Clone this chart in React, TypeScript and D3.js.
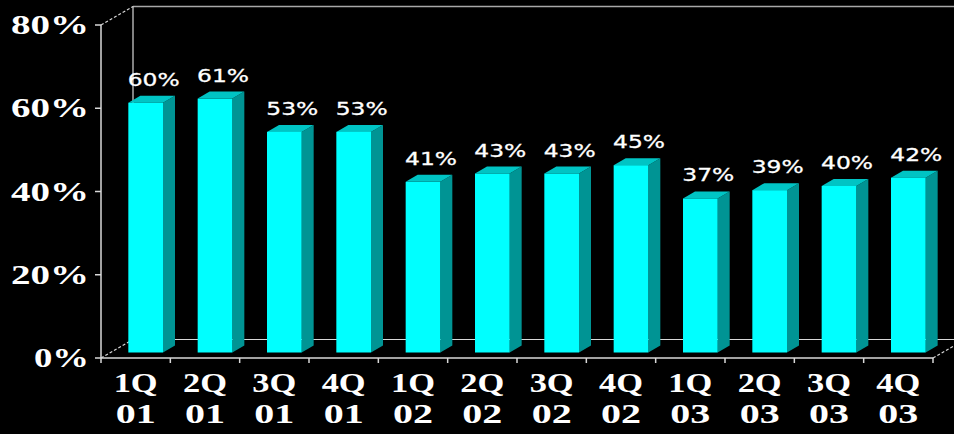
import React from "react";
import * as d3 from "d3";

const categories = ["1Q 01", "2Q 01", "3Q 01", "4Q 01", "1Q 02", "2Q 02", "3Q 02", "4Q 02", "1Q 03", "2Q 03", "3Q 03", "4Q 03"];
const values = [60, 61, 53, 53, 41, 43, 43, 45, 37, 39, 40, 42];
const yTicks = [0, 20, 40, 60, 80];

const W = 954;
const H = 434;
const X0 = 101;
const X1 = 933;
const YB = 358;
const YT = 25;
const DX = 32;
const DY = -18.5;
const OFX = 10;
const OFY = -5.5;
const BDX = 12;
const BDY = -7;

export default function App() {
  const y = d3.scaleLinear().domain([0, 80]).range([YB, YT]);
  const x = d3.scaleBand<string>().domain(categories).range([X0, X1]).paddingInner(0.5).paddingOuter(0.25);
  const step = x.step();
  const bw = x.bandwidth();
  const lineColor = "#d8d8d8";
  const boundaries = d3.range(categories.length + 1).map((i) => X0 + i * step);

  return (
    <svg width={W} height={H} style={{ position: "absolute", left: 0, top: 0, display: "block" }}>
      <rect x={0} y={0} width={W} height={H} fill="#000" />
      {/* back wall & floor */}
      <line x1={X0 + DX} y1={YT + DY} x2={X1 + DX} y2={YT + DY} stroke="#a8a8a8" strokeWidth={1.5} />
      <line x1={X0 + DX} y1={YT + DY} x2={X0 + DX} y2={YB + DY} stroke={lineColor} strokeWidth={1.2} />
      <line x1={X0 + DX} y1={YB + DY} x2={X1 + DX} y2={YB + DY} stroke={lineColor} strokeWidth={1.2} />
      <line x1={X0} y1={YT} x2={X0 + DX} y2={YT + DY} stroke={lineColor} strokeWidth={1.2} strokeDasharray="3,2" />
      <line x1={X0} y1={YB} x2={X0 + DX} y2={YB + DY} stroke={lineColor} strokeWidth={1.2} strokeDasharray="3,2" />
      <line x1={X1} y1={YB} x2={X1 + DX} y2={YB + DY} stroke={lineColor} strokeWidth={1.2} strokeDasharray="3,2" />

      {/* bars */}
      {categories.map((c, i) => {
        const bx = (x(c) as number) + OFX;
        const yt = y(values[i]) + OFY;
        const yb = y(0) + OFY;
        const top = [[bx, yt], [bx + bw, yt], [bx + bw + BDX, yt + BDY], [bx + BDX, yt + BDY]];
        const side = [[bx + bw, yt], [bx + bw + BDX, yt + BDY], [bx + bw + BDX, yb + BDY], [bx + bw, yb]];
        return (
          <g key={c}>
            <polygon points={side.map((p) => p.join(",")).join(" ")} fill="#009494" />
            <polygon points={top.map((p) => p.join(",")).join(" ")} fill="#00c4c4" />
            <rect x={bx} y={yt} width={bw} height={yb - yt} fill="#00ffff" />
            <text
              x={bx + bw / 2 + 8}
              y={yt - 17}
              fill="#fff"
              fontFamily="DejaVu Sans, Verdana, sans-serif"
              fontSize={18}
              textAnchor="middle"
              textLength={52}
              lengthAdjust="spacingAndGlyphs"
              stroke="#fff"
              strokeWidth={0.3}
            >
              {values[i]}%
            </text>
          </g>
        );
      })}

      {/* front axes */}
      <line x1={X0} y1={YT} x2={X0} y2={YB} stroke={lineColor} strokeWidth={1.5} />
      <line x1={X0} y1={YB} x2={X1} y2={YB} stroke={lineColor} strokeWidth={1.5} />
      {yTicks.map((t) => (
        <g key={t}>
          <line x1={X0 - 6} y1={y(t)} x2={X0} y2={y(t)} stroke={lineColor} strokeWidth={1.5} />
          <text
            x={89}
            y={y(t) + 9}
            fill="#fff"
            fontFamily="Liberation Serif, Times New Roman, serif"
            fontWeight="bold"
            fontSize={27}
            textAnchor="end"
            textLength={t === 0 ? 55 : 78}
            lengthAdjust="spacingAndGlyphs"
          >
            {t}%
          </text>
        </g>
      ))}
      {boundaries.map((bx, i) => (
        <line key={i} x1={bx} y1={YB} x2={bx} y2={YB + 5} stroke={lineColor} strokeWidth={1.5} />
      ))}
      {categories.map((c) => {
        const [l1, l2] = c.split(" ");
        const cx = (x(c) as number) + bw / 2;
        return (
          <g key={c}>
            <text
              x={cx}
              y={392}
              fill="#fff"
              fontFamily="Liberation Serif, Times New Roman, serif"
              fontWeight="bold"
              fontSize={27}
              textAnchor="middle"
              textLength={44}
              lengthAdjust="spacingAndGlyphs"
            >
              {l1}
            </text>
            <text
              x={cx}
              y={423}
              fill="#fff"
              fontFamily="Liberation Serif, Times New Roman, serif"
              fontWeight="bold"
              fontSize={27}
              textAnchor="middle"
              textLength={40}
              lengthAdjust="spacingAndGlyphs"
            >
              {l2}
            </text>
          </g>
        );
      })}
    </svg>
  );
}
